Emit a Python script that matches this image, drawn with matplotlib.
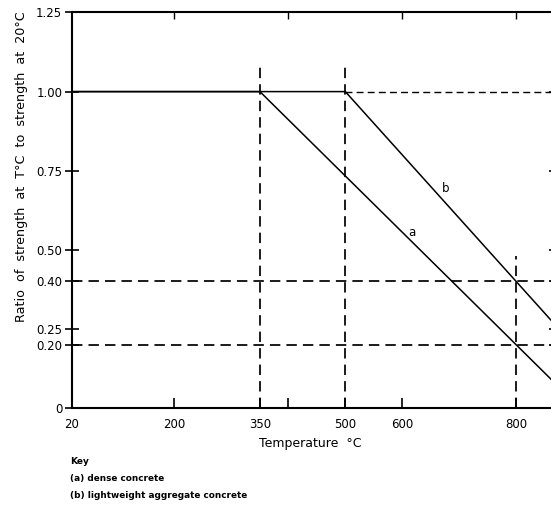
import matplotlib
matplotlib.use('Agg')
import matplotlib.pyplot as plt

# curve (a) dense concrete, curve (b) lightweight aggregate concrete
temp_a = [20, 350, 800, 900]
ratio_a = [1.0, 1.0, 0.2, 0.022]
temp_b = [20, 500, 800, 900]
ratio_b = [1.0, 1.0, 0.4, 0.2]

# dashed guide lines
guide_temps = [350, 500, 800]
guide_tops = [1.08, 1.08, 0.48]
guide_ratios = [0.4, 0.2]

xticks = [20, 200, 350, 400, 500, 600, 800]
xtick_labels = ['20', '200', '350', '', '500', '600', '800']
top_ticks = [200, 400, 600, 800]
yticks = [0, 0.2, 0.25, 0.4, 0.5, 0.75, 1.0, 1.25]
ytick_labels = ['0', '0.20', '0.25', '0.40', '0.50', '0.75', '1.00', '1.25']

fig = plt.figure(figsize=(5.51, 5.05), dpi=100)
ax = fig.add_axes([72 / 551, 97 / 505, 484 / 551, 395.5 / 505])
ax.set_xlim(20, 870)
ax.set_ylim(0, 1.25)

ax.plot(temp_a, ratio_a, color='black', lw=1.1)
ax.plot(temp_b, ratio_b, color='black', lw=1.1)

dash = (0, (6, 3.5))
for t, top in zip(guide_temps, guide_tops):
    ax.plot([t, t], [0, top], color='black', lw=1.25, linestyle=dash)
for r in guide_ratios:
    ax.plot([20, 870], [r, r], color='black', lw=1.25, linestyle=dash)
ax.plot([500, 870], [1.0, 1.0], color='black', lw=1.0, linestyle=(0, (5, 3)))

ax.text(617, 0.556, 'a', fontsize=8.5, ha='center', va='center')
ax.text(677, 0.695, 'b', fontsize=8.5, ha='center', va='center')

for s in ax.spines.values():
    s.set_linewidth(1.5)
ax.spines['top'].set_visible(False)

ax.set_xticks(xticks)
ax.set_xticklabels(xtick_labels, fontsize=8.5)
ax.set_yticks(yticks)
ax.set_yticklabels(ytick_labels, fontsize=8.5)
ax.tick_params(axis='x', direction='in', length=7, width=1.2, pad=7)
ax.tick_params(axis='y', direction='inout', length=10, width=1.2, right=True, pad=2)

top = ax.secondary_xaxis('top')
top.set_xticks(top_ticks)
top.set_xticklabels([])
top.tick_params(direction='in', length=5, width=1.0)
top.spines['top'].set_linewidth(1.5)

fig.text(310 / 551, 1 - 444 / 505, 'Temperature  \u00b0C', fontsize=9,
         ha='center', va='center')
fig.text(22 / 551, 1 - 167 / 505,
         'Ratio  of  strength  at  T\u00b0C  to  strength  at  20\u00b0C',
         fontsize=9.2, rotation=90, ha='center', va='center')

fig.text(70 / 551, 1 - 462 / 505, 'Key', fontsize=6.5, fontweight='bold',
         va='center')
fig.text(70 / 551, 1 - 479 / 505, '(a) dense concrete', fontsize=6.4,
         fontweight='bold', va='center')
fig.text(70 / 551, 1 - 496 / 505, '(b) lightweight aggregate concrete',
         fontsize=6.4, fontweight='bold', va='center')

fig.savefig('out.png', dpi=100)
